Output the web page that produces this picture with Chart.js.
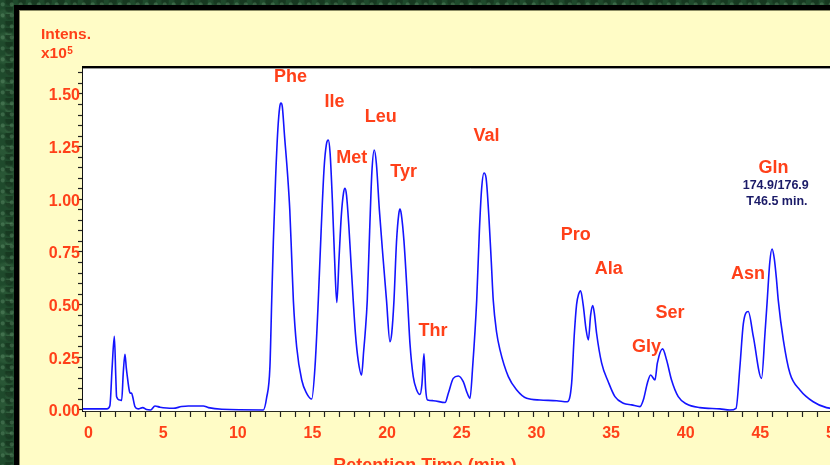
<!DOCTYPE html>
<html>
<head>
<meta charset="utf-8">
<script src="https://cdn.jsdelivr.net/npm/chart.js@4/dist/chart.umd.min.js"></script>
<style>
  html, body { margin: 0; padding: 0; }
  body {
    width: 830px; height: 465px; overflow: hidden; position: relative;
    background-color: #1f4a2c;
    background-image:
      radial-gradient(circle at 30% 40%, rgba(110,160,120,0.35) 0 1.5px, transparent 2.5px),
      radial-gradient(circle at 70% 20%, rgba(20,50,28,0.7) 0 3px, transparent 5px),
      radial-gradient(circle at 50% 80%, rgba(90,140,100,0.3) 0 2px, transparent 4px),
      radial-gradient(ellipse at 20% 60%, rgba(60,110,70,0.35) 0 6px, transparent 10px);
    background-size: 9px 11px, 13px 7px, 17px 19px, 31px 23px;
  }
  #frame {
    position: absolute; left: 14px; top: 5px; width: 900px; height: 500px;
    background: #000;
  }
  #panel {
    position: absolute; left: 20px; top: 11px; width: 850px; height: 470px;
    background: #fffcc6; box-shadow: -1px -1px 0 #8c8c64;
  }
  canvas { display: block; }
</style>
</head>
<body>
<div id="frame"></div>
<div id="panel"><canvas id="chart" width="850" height="470"></canvas></div>
<script>
// Retention time (min) of each sampled point of the trace
const retentionTimes = [
  -0.2, 1.4, 1.6, 1.75, 1.9, 2.0, 2.05, 2.28, 2.39, 2.5, 2.61, 2.7, 2.77, 2.88, 2.95, 3.05, 3.13, 3.28, 3.5, 3.8,
  4.06, 4.33, 4.62, 4.96, 5.4, 5.85, 6.4, 6.85, 7.86, 8.2, 9.1, 11.88, 12.1, 12.32, 12.44, 12.55, 12.7, 12.85, 12.98, 13.06,
  13.15, 13.3, 13.5, 13.65, 13.78, 13.89, 14.11, 14.45, 14.78, 15.12, 15.34, 15.56, 15.75, 15.95, 16.1, 16.23, 16.35, 16.5, 16.65, 16.8,
  16.95, 17.1, 17.25, 17.35, 17.45, 17.6, 17.75, 17.9, 18.05, 18.23, 18.46, 18.6, 18.7, 18.84, 19.0, 19.15, 19.31, 19.45, 19.65, 19.9,
  20.13, 20.36, 20.48, 20.63, 20.8, 20.95, 21.03, 21.12, 21.3, 21.54, 21.7, 21.92, 22.15, 22.37, 22.5, 22.64, 22.75, 22.88, 23.26, 24.05,
  24.27, 24.6, 24.94, 25.27, 25.54, 25.72, 25.9, 26.17, 26.35, 26.5, 26.66, 26.8, 27.0, 27.15, 27.28, 27.5, 27.73, 28.29, 28.85, 29.52,
  30.41, 31.53, 32.24, 32.53, 32.7, 32.86, 33.0, 33.13, 33.3, 33.5, 33.65, 33.8, 33.94, 34.05, 34.2, 34.54, 34.98, 35.43, 35.99, 36.55,
  37.11, 37.33, 37.6, 37.82, 38.11, 38.27, 38.62, 38.89, 39.22, 39.67, 40.23, 41.12, 42.46, 43.13, 43.54, 43.8, 44.03, 44.36, 44.7, 45.25,
  45.48, 45.63, 45.8, 45.95, 46.1, 46.25, 46.37, 46.71, 47.15, 47.82, 48.71, 49.6, 50.5, 51.0
];

// Intensity (x10^5) at each retention time
const intensities = [
  0.005, 0.005, 0.02, 0.2, 0.35, 0.15, 0.063, 0.047, 0.045, 0.18, 0.264, 0.2, 0.158, 0.1, 0.08, 0.08, 0.063, 0.016, 0.005, 0.011,
  0.002, 0.0, 0.019, 0.013, 0.009, 0.008, 0.016, 0.019, 0.019, 0.011, 0.003, 0.0, 0.058, 0.205, 0.52, 0.8, 1.1, 1.33, 1.44, 1.457,
  1.44, 1.3, 1.12, 0.95, 0.72, 0.52, 0.30, 0.142, 0.079, 0.052, 0.205, 0.52, 0.85, 1.15, 1.26, 1.281, 1.22, 1.0, 0.72, 0.51,
  0.72, 0.92, 1.03, 1.052, 1.02, 0.88, 0.7, 0.52, 0.36, 0.237, 0.166, 0.28, 0.365, 0.52, 0.85, 1.13, 1.234, 1.17, 0.95, 0.72,
  0.52, 0.324, 0.365, 0.52, 0.8, 0.93, 0.954, 0.93, 0.8, 0.52, 0.316, 0.158, 0.095, 0.074, 0.12, 0.266, 0.1, 0.047, 0.044, 0.035,
  0.079, 0.15, 0.161, 0.134, 0.079, 0.055, 0.205, 0.52, 0.85, 1.05, 1.125, 1.1, 0.9, 0.7, 0.52, 0.37, 0.285, 0.158, 0.095, 0.055,
  0.047, 0.044, 0.039, 0.127, 0.35, 0.5, 0.55, 0.566, 0.5, 0.38, 0.332, 0.45, 0.495, 0.46, 0.364, 0.222, 0.134, 0.063, 0.032, 0.024,
  0.016, 0.047, 0.127, 0.166, 0.142, 0.222, 0.29, 0.237, 0.142, 0.063, 0.028, 0.011, 0.005, 0.0, 0.008, 0.205, 0.41, 0.467, 0.348, 0.15,
  0.364, 0.52, 0.7, 0.764, 0.72, 0.62, 0.52, 0.332, 0.174, 0.095, 0.039, 0.011, 0.005, 0.004
];

// Peak names and where each name sits, in (min, x10^5) units
const peakNames    = ['Phe', 'Ile', 'Met', 'Leu', 'Tyr', 'Thr', 'Val', 'Pro', 'Ala', 'Gly', 'Ser', 'Asn', 'Gln'];
const peakLabelAt  = [13.70, 16.64, 17.80, 19.75, 21.28, 23.24, 26.83, 32.80, 35.02, 37.55, 39.12, 44.34, 46.05];
const peakLabelInt = [1.585, 1.467, 1.199, 1.396, 1.132, 0.380, 1.305, 0.833, 0.674, 0.304, 0.467, 0.650, 1.155];

// Extra annotation lines under the Gln label
const glnNotes     = ['174.9/176.9', 'T46.5 min.'];
const glnNoteAt    = [46.20, 46.28];
const glnNoteInt   = [1.070, 0.992];

// Axis tick values
const xMajorStep = 5;
const yTickLabels = ['0.00', '0.25', '0.50', '0.75', '1.00', '1.25', '1.50'];

const RED = '#ff4019';
const NAVY = '#1b1b68';
const FONT = "'Liberation Sans', Arial, sans-serif";

const points = retentionTimes.map((t, i) => ({ x: t, y: intensities[i] }));

const decorations = {
  id: 'decorations',
  beforeDatasetsDraw(chart) {
    const { ctx, chartArea: a } = chart;
    ctx.save();
    ctx.fillStyle = '#ffffff';
    ctx.fillRect(a.left, a.top, a.right - a.left, a.bottom - a.top);
    ctx.restore();
  },
  afterDraw(chart) {
    const { ctx, chartArea: a, scales: { x, y } } = chart;
    ctx.save();
    // frame line along the top of the plot
    ctx.strokeStyle = '#000';
    ctx.lineWidth = 2;
    ctx.beginPath();
    ctx.moveTo(a.left - 1, a.top);
    ctx.lineTo(a.right + 10, a.top);
    ctx.stroke();
    ctx.strokeStyle = '#999';
    ctx.lineWidth = 1;
    ctx.beginPath();
    ctx.moveTo(a.left, a.top + 1.5);
    ctx.lineTo(a.right + 10, a.top + 1.5);
    ctx.stroke();

    // peak names
    ctx.fillStyle = RED;
    ctx.font = `bold 18px ${FONT}`;
    ctx.textAlign = 'center';
    ctx.textBaseline = 'middle';
    peakNames.forEach((name, i) => {
      ctx.fillText(name, x.getPixelForValue(peakLabelAt[i]), y.getPixelForValue(peakLabelInt[i]) + 1);
    });
    ctx.fillStyle = NAVY;
    ctx.font = `bold 12.5px ${FONT}`;
    glnNotes.forEach((txt, i) => {
      ctx.fillText(txt, x.getPixelForValue(glnNoteAt[i]), y.getPixelForValue(glnNoteInt[i]) + 1);
    });

    // y-axis title
    ctx.fillStyle = RED;
    ctx.textAlign = 'left';
    ctx.textBaseline = 'alphabetic';
    ctx.font = `bold 15.5px ${FONT}`;
    ctx.fillText('Intens.', 21, 27.5);
    ctx.fillText('x10', 21, 46.5);
    const w = ctx.measureText('x10').width;
    ctx.font = `bold 10px ${FONT}`;
    ctx.fillText('5', 21 + w + 0.5, 43);

    // x-axis title
    ctx.font = `bold 18px ${FONT}`;
    ctx.textAlign = 'center';
    ctx.fillText('Retention Time (min.)', 405, 460);
    ctx.restore();
  }
};

new Chart(document.getElementById('chart'), {
  type: 'line',
  data: {
    datasets: [{
      data: points,
      borderColor: '#1414ff',
      borderWidth: 1.6,
      pointRadius: 0,
      fill: false,
      cubicInterpolationMode: 'monotone'
    }]
  },
  options: {
    responsive: false,
    animation: false,
    events: [],
    layout: { padding: { left: 0, top: 56, right: 22.6, bottom: 0 } },
    plugins: { legend: { display: false }, tooltip: { enabled: false } },
    scales: {
      x: {
        type: 'linear',
        min: -0.2,
        max: 51,
        afterFit(scale) { scale.height = 70; },
        afterBuildTicks(scale) {
          const ticks = [];
          for (let v = 0; v <= 51; v++) ticks.push({ value: v });
          scale.ticks = ticks;
        },
        ticks: {
          autoSkip: false,
          maxRotation: 0,
          padding: 7,
          labelOffset: 2.5,
          color: RED,
          font: { family: FONT, size: 16, weight: 'bold' },
          callback: (v) => (v % xMajorStep === 0 ? String(v) : '')
        },
        grid: {
          drawOnChartArea: false,
          drawTicks: true,
          tickLength: 6,
          tickColor: '#222',
          tickWidth: 1.2
        },
        border: { display: true, color: '#2a2a20', width: 2 }
      },
      y: {
        type: 'linear',
        min: -0.005,
        max: 1.628,
        afterFit(scale) { scale.width = 63; },
        afterBuildTicks(scale) {
          const ticks = [];
          for (let k = 0; k <= 32; k++) ticks.push({ value: k * 0.05 });
          scale.ticks = ticks;
        },
        ticks: {
          autoSkip: false,
          padding: -2,
          labelOffset: 2,
          color: RED,
          font: { family: FONT, size: 16, weight: 'bold' },
          callback: (v) => {
            const k = Math.round(v * 100);
            return k % 25 === 0 ? yTickLabels[k / 25] : '';
          }
        },
        grid: {
          drawOnChartArea: false,
          drawTicks: true,
          tickLength: 5,
          tickColor: '#222',
          tickWidth: 1.2
        },
        border: { display: true, color: '#111', width: 2 }
      }
    }
  },
  plugins: [decorations]
});
</script>
</body>
</html>
